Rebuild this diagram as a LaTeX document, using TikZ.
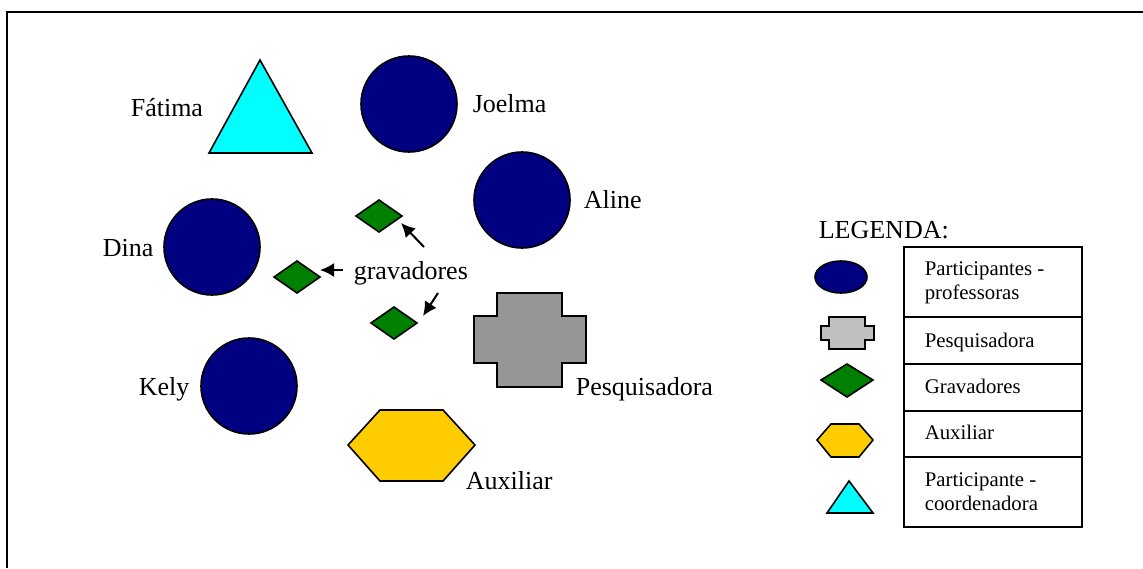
\documentclass[tikz,border=0pt]{standalone}
\usepackage{fontspec}
\setmainfont{Liberation Serif}
\usetikzlibrary{arrows.meta}

\definecolor{azul}{HTML}{000080}
\definecolor{ciano}{HTML}{00FFFF}
\definecolor{verde}{HTML}{008000}
\definecolor{ouro}{HTML}{FFCC00}
\definecolor{cinza}{HTML}{969696}
\definecolor{cinzaclaro}{HTML}{C0C0C0}

\begin{document}
\begin{tikzpicture}[x=0.5pt, y=-0.5pt, line width=0.8pt, line join=miter,
  prof/.style={draw, fill=azul},
  coord/.style={draw, fill=ciano},
  grava/.style={draw, fill=verde},
  aux/.style={draw, fill=ouro},
  nome/.style={anchor=base west, inner sep=0pt, font=\fontsize{13}{15.6}\selectfont},
  leg/.style={anchor=base west, inner sep=0pt, font=\fontsize{10.4}{12}\selectfont}]
  \useasboundingbox (0,0) rectangle (1143,568);
  \draw[line width=1pt] (7,568) -- (7,12) -- (1143,12);
  % sala
  \draw[coord] (260,60) -- (312,153) -- (209,153) -- cycle;
  \node[nome] (fatima) at (130,116) {Fátima};
  \draw[prof] (409,104) circle [radius=24pt];
  \node[nome] (joelma) at (472,112) {Joelma};
  \draw[prof] (522,200) circle [radius=24pt];
  \node[nome] (aline) at (583,208) {Aline};
  \draw[prof] (212,247) circle [radius=24pt];
  \node[nome] (dina) at (102,256) {Dina};
  \draw[prof] (249,386) circle [radius=24pt];
  \node[nome] (kely) at (138,395) {Kely};
  \draw[fill=cinza] (497,293) -- (562,293) -- (562,316) -- (586,316) -- (586,363) -- (562,363)
    -- (562,387) -- (497,387) -- (497,363) -- (474,363) -- (474,316) -- (497,316) -- cycle;
  \node[nome] (pesq) at (575,395) {Pesquisadora};
  \draw[aux] (348,445) -- (380,410) -- (443,410) -- (475,445) -- (443,481) -- (380,481) -- cycle;
  \node[nome] (auxiliar) at (465,489) {Auxiliar};
  % gravadores
  \foreach \x/\y in {379/216, 297/277, 394/323}
    \draw[grava] (\x-23,\y) -- (\x,\y-16) -- (\x+23,\y) -- (\x,\y+16) -- cycle;
  \node[nome] (grav) at (353,279) {gravadores};
  \coordinate (g1a) at (424,247);
  \coordinate (g1b) at (401,223);
  \coordinate (g2a) at (343,270);
  \coordinate (g2b) at (320,270);
  \coordinate (g3a) at (438,293);
  \coordinate (g3b) at (423,316);
  \draw[->, >={Latex[length=7pt, width=7pt]}, line width=1pt] (g1a) -- (g1b);
  \draw[->, >={Latex[length=7pt, width=7pt]}, line width=1pt] (g2a) -- (g2b);
  \draw[->, >={Latex[length=7pt, width=7pt]}, line width=1pt] (g3a) -- (g3b);
  % legenda
  \node[nome] (legenda) at (818,238) {LEGENDA:};
  \draw (904,247) rectangle (1082,527);
  \foreach \y in {317, 364, 411, 457}
    \draw (904,\y) -- (1082,\y);
  \draw[prof] (841,277) ellipse [x radius=13pt, y radius=8pt];
  \node[leg] (l1a) at (924,275) {Participantes -};
  \node[leg] (l1b) at (924,299) {professoras};
  \draw[fill=cinzaclaro] (829,317) -- (865,317) -- (865,326) -- (874,326) -- (874,340) -- (865,340)
    -- (865,349) -- (829,349) -- (829,340) -- (821,340) -- (821,326) -- (829,326) -- cycle;
  \node[leg] (l2) at (924,347) {Pesquisadora};
  \draw[grava] (821,380) -- (847,364) -- (873,380) -- (847,397) -- cycle;
  \node[leg] (l3) at (924,393) {Gravadores};
  \draw[aux] (817,440) -- (831,424) -- (859,424) -- (873,440) -- (859,457) -- (831,457) -- cycle;
  \node[leg] (l4) at (924,439) {Auxiliar};
  \draw[coord] (849,481) -- (873,513) -- (827,513) -- cycle;
  \node[leg] (l5a) at (924,486) {Participante -};
  \node[leg] (l5b) at (924,510) {coordenadora};
\end{tikzpicture}
\end{document}
